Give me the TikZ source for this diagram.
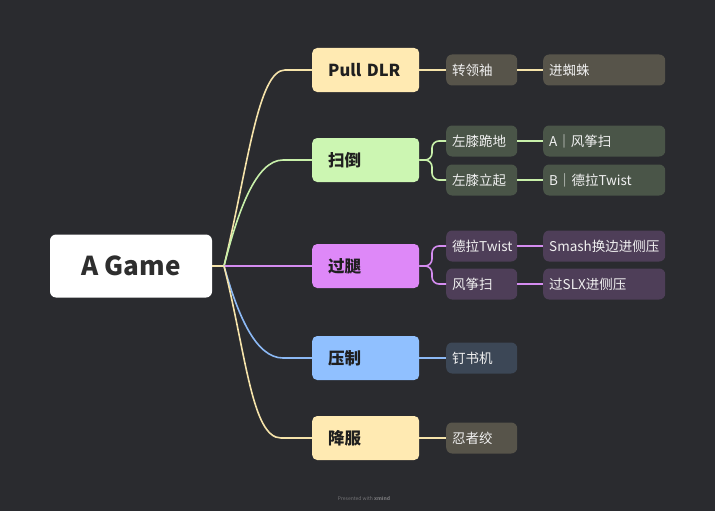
\documentclass[tikz,border=0pt]{standalone}
\usepackage{fontspec}
\setmainfont{Noto Sans CJK SC}
\usepackage{tikz}
\usetikzlibrary{calc}

\definecolor{bgcol}{RGB}{42,43,47}
\definecolor{yline}{RGB}{245,227,170}
\definecolor{gline}{RGB}{200,240,170}
\definecolor{pline}{RGB}{212,140,240}
\definecolor{bline}{RGB}{140,185,245}
\definecolor{yfill}{RGB}{255,234,178}
\definecolor{gfill}{RGB}{204,246,178}
\definecolor{pfill}{RGB}{222,136,248}
\definecolor{bfill}{RGB}{144,192,255}
\definecolor{ysub}{RGB}{87,84,74}
\definecolor{gsub}{RGB}{74,85,72}
\definecolor{psub}{RGB}{78,62,88}
\definecolor{bsub}{RGB}{60,71,86}
\definecolor{subtext}{RGB}{240,240,240}

\tikzset{
  rootbox/.style={fill=white, rounded corners=6pt, minimum width=162pt, minimum height=63pt,
    font=\fontsize{26}{28}\selectfont\bfseries, text=black!82},
  topicbox/.style={rounded corners=5pt, minimum height=44pt, anchor=west, inner xsep=16pt,
    text width=75pt, align=left, font=\fontsize{16.5}{19}\selectfont\bfseries, text=black!88},
  subbox/.style={rounded corners=6pt, minimum height=31pt, anchor=west, inner xsep=6pt,
    text width=#1, align=left, font=\fontsize{13.5}{15}\selectfont, text=subtext},
  subbox/.default=59pt,
  link/.style={line width=1.6pt, rounded corners=#1},
  link/.default=7pt
}

\begin{document}
\begin{tikzpicture}[x=1pt,y=-1pt]

\fill[bgcol] (0,0) rectangle (715,511);
\useasboundingbox (0,0) rectangle (715,511);

\node[rootbox] (root) at (131,266) {A Game};
\coordinate (j) at (224,266);

% main topics
\node[topicbox, fill=yfill] (pull) at (312,70) {Pull DLR};
\node[topicbox, fill=gfill] (sweep) at (312,160) {扫倒};
\node[topicbox, fill=pfill] (pass) at (312,266) {过腿};
\node[topicbox, fill=bfill] (pin) at (312,358) {压制};
\node[topicbox, fill=yfill] (sub) at (312,438) {降服};

% first level
\node[subbox, fill=ysub] (collar) at (446,70) {转领袖};
\node[subbox, fill=gsub] (kneel) at (446,141) {左膝跪地};
\node[subbox, fill=gsub] (stand) at (446,180) {左膝立起};
\node[subbox, fill=psub] (twist) at (446,246) {德拉Twist};
\node[subbox, fill=psub] (kite) at (446,284) {风筝扫};
\node[subbox, fill=bsub] (staple) at (446,358) {钉书机};
\node[subbox, fill=ysub] (ninja) at (446,438) {忍者绞};

% second level
\node[subbox=110pt, fill=ysub] (spider) at (543,70) {进蜘蛛};
\node[subbox=110pt, fill=gsub] (kiteA) at (543,141) {A｜风筝扫};
\node[subbox=110pt, fill=gsub] (twistB) at (543,180) {B｜德拉Twist};
\node[subbox=110pt, fill=psub] (smash) at (543,246) {Smash换边进侧压};
\node[subbox=110pt, fill=psub] (slx) at (543,284) {过SLX进侧压};

% root to topics
\draw[link, yline] (root.east) -- (j);
\draw[link, yline] (j) .. controls ($(j)+(24,-100)$) and ($(pull.west)+(-54,0)$) .. ($(pull.west)+(-20,0)$) -- (pull.west);
\draw[link, gline] (j) .. controls ($(j)+(14,-55)$) and ($(sweep.west)+(-56,0)$) .. ($(sweep.west)+(-22,0)$) -- (sweep.west);
\draw[link, pline] (j) -- (pass.west);
\draw[link, bline] (j) .. controls ($(j)+(14,50)$) and ($(pin.west)+(-56,0)$) .. ($(pin.west)+(-22,0)$) -- (pin.west);
\draw[link, yline] (j) .. controls ($(j)+(22,88)$) and ($(sub.west)+(-60,0)$) .. ($(sub.west)+(-24,0)$) -- (sub.west);

% topics to first level
\draw[link, yline] (pull.east) -- (collar.west);
\draw[link, gline] (sweep.east) -| ([xshift=-14]kneel.west) -- (kneel.west);
\draw[link, gline] (sweep.east) -| ([xshift=-14]stand.west) -- (stand.west);
\draw[link, pline] (pass.east) -| ([xshift=-14]twist.west) -- (twist.west);
\draw[link, pline] (pass.east) -| ([xshift=-14]kite.west) -- (kite.west);
\draw[link, bline] (pin.east) -- (staple.west);
\draw[link, yline] (sub.east) -- (ninja.west);

% first to second level
\draw[link, yline] (collar.east) -- (spider.west);
\draw[link, gline] (kneel.east) -- (kiteA.west);
\draw[link, gline] (stand.east) -- (twistB.west);
\draw[link, pline] (twist.east) -- (smash.west);
\draw[link, pline] (kite.east) -- (slx.west);

\node[text=white!35!bgcol, font=\fontsize{5}{6}\selectfont] (foot) at (364,498) {Presented with \textbf{xmind}};

\end{tikzpicture}
\end{document}
